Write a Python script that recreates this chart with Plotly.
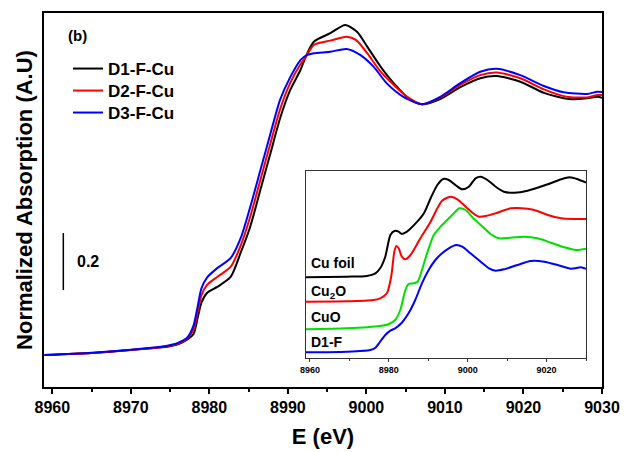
import plotly.graph_objects as go

# ---------------- main panel data (E in eV, normalized absorption) ----------------
E_d1 = [8959, 8965, 8970, 8974, 8976, 8977.2, 8978.0, 8978.5, 8979.0, 8979.7, 8981.0, 8982.7,
        8984.0, 8985.2, 8986.5, 8987.8, 8989.0, 8990.3, 8991.6, 8992.2, 8993.3, 8995.4, 8997.3,
        8998.8, 9000.1, 9001.8, 9003.5, 9005.6, 9007.1, 9009.4, 9011.9, 9014.5, 9016.6, 9019.6,
        9022.6, 9025.8, 9028.1, 9029.4, 9030]
A_d1 = [0.0, 0.007, 0.018, 0.027, 0.038, 0.055, 0.075, 0.13, 0.185, 0.218, 0.239, 0.274,
        0.36, 0.45, 0.58, 0.71, 0.83, 0.93, 1.00, 1.042, 1.099, 1.129, 1.158,
        1.134, 1.082, 1.012, 0.953, 0.895, 0.880, 0.898, 0.939, 0.971, 0.979, 0.959,
        0.920, 0.898, 0.901, 0.906, 0.903]

E_d2 = [8959, 8965, 8970, 8974, 8976, 8977.2, 8978.0, 8978.5, 8979.0, 8979.7, 8981.0, 8982.7,
        8984.0, 8985.2, 8986.5, 8987.8, 8989.0, 8990.3, 8991.6, 8992.2, 8993.3, 8995.4, 8997.5,
        8998.7, 9000.1, 9001.8, 9003.5, 9005.2, 9007.1, 9009.4, 9011.9, 9014.5, 9016.6, 9019.6,
        9022.6, 9025.5, 9028.1, 9029.4, 9030]
A_d2 = [0.0, 0.007, 0.018, 0.028, 0.040, 0.058, 0.09, 0.15, 0.21, 0.246, 0.274, 0.309,
        0.385, 0.485, 0.615, 0.745, 0.862, 0.955, 1.02, 1.042, 1.088, 1.103, 1.117,
        1.105, 1.059, 0.994, 0.947, 0.906, 0.880, 0.903, 0.947, 0.982, 0.991, 0.971,
        0.932, 0.906, 0.904, 0.912, 0.912]

E_d3 = [8959, 8965, 8970, 8974, 8976, 8977.2, 8978.0, 8978.5, 8979.0, 8979.7, 8981.0, 8982.7,
        8984.0, 8985.2, 8986.5, 8987.8, 8989.0, 8990.3, 8991.6, 8992.4, 8993.3, 8995.4, 8997.5,
        8999.2, 9000.9, 9002.6, 9004.7, 9007.1, 9009.4, 9011.9, 9014.5, 9016.6, 9019.6,
        9022.6, 9025.1, 9028.1, 9029.4, 9030]
A_d3 = [0.0, 0.008, 0.019, 0.030, 0.043, 0.062, 0.105, 0.17, 0.235, 0.272, 0.305, 0.340,
        0.411, 0.519, 0.649, 0.779, 0.895, 0.975, 1.035, 1.052, 1.059, 1.064, 1.074,
        1.053, 1.012, 0.953, 0.906, 0.880, 0.906, 0.953, 0.994, 1.004, 0.982,
        0.944, 0.922, 0.916, 0.924, 0.923]

# ---------------- inset data (E in eV, stacked normalized absorption) ----------------
E_cu = [8959.0, 8969.3, 8974.4, 8976.6, 8977.8, 8979.1, 8980.4, 8981.4, 8982.5, 8983.3, 8984.6,
        8987.2, 8988.9, 8990.6, 8992.3, 8993.8, 8995.2, 8996.9, 8998.6, 9000.3, 9002.0, 9003.3,
        9005.0, 9007.1, 9009.2, 9011.8, 9015.2, 9020.3, 9023.7, 9025.8, 9027.9, 9030.0]
A_cu = [0.807, 0.813, 0.82, 0.847, 0.897, 1.013, 1.23, 1.27, 1.263, 1.24, 1.263,
        1.363, 1.447, 1.597, 1.73, 1.79, 1.78, 1.73, 1.687, 1.713, 1.797, 1.813,
        1.78, 1.713, 1.663, 1.653, 1.673, 1.737, 1.787, 1.807, 1.787, 1.753]

E_cu2o = [8959.0, 8969.3, 8976.1, 8977.8, 8979.5, 8980.6, 8981.4, 8981.9, 8982.5, 8983.3, 8984.2,
          8985.5, 8988.0, 8990.6, 8992.3, 8993.5, 8994.8, 8995.8, 8997.4, 8999.5, 9001.2, 9002.9,
          9004.6, 9007.5, 9010.9, 9015.2, 9017.7, 9020.3, 9023.7, 9027.1, 9030.0]
A_cu2o = [0.563, 0.567, 0.58, 0.597, 0.647, 0.813, 1.063, 1.12, 1.097, 1.013, 0.987,
          1.03, 1.197, 1.363, 1.497, 1.573, 1.603, 1.613, 1.587, 1.513, 1.453, 1.413,
          1.42, 1.453, 1.497, 1.493, 1.47, 1.43, 1.397, 1.39, 1.39]

E_cuo = [8959.0, 8969.3, 8977.8, 8979.9, 8981.6, 8982.9, 8984.2, 8985.0, 8986.3, 8987.3, 8988.4,
         8989.7, 8991.4, 8993.1, 8994.8, 8996.5, 8997.9, 8999.5, 9001.2, 9003.3, 9005.8, 9008.0,
         9010.9, 9014.3, 9017.7, 9021.1, 9024.5, 9027.5, 9030.0]
A_cuo = [0.287, 0.297, 0.32, 0.337, 0.38, 0.48, 0.68, 0.74, 0.747, 0.763, 0.88,
         1.047, 1.23, 1.313, 1.38, 1.447, 1.497, 1.48, 1.407, 1.33, 1.24, 1.197,
         1.203, 1.213, 1.197, 1.153, 1.107, 1.08, 1.093]

E_d1f = [8959.0, 8969.3, 8975.3, 8976.6, 8977.8, 8979.1, 8980.4, 8981.6, 8983.3, 8985.0, 8986.7,
         8988.4, 8990.1, 8991.8, 8993.5, 8995.2, 8997.1, 8998.6, 9000.7, 9003.3, 9005.4, 9007.1,
         9009.2, 9012.6, 9016.0, 9019.4, 9022.8, 9026.2, 9028.7, 9030.0]
A_d1f = [0.057, 0.063, 0.08, 0.103, 0.163, 0.23, 0.273, 0.297, 0.353, 0.447, 0.58,
         0.747, 0.88, 0.98, 1.047, 1.097, 1.13, 1.113, 1.047, 0.963, 0.897, 0.873,
         0.887, 0.93, 0.97, 0.963, 0.93, 0.893, 0.907, 0.893]

main_names = ["D1-F-Cu", "D2-F-Cu", "D3-F-Cu"]
main_colors = ["#000000", "#ff0000", "#0000ff"]
inset_names = ["Cu foil", "Cu<sub>2</sub>O", "CuO", "D1-F"]
inset_colors = ["#000000", "#ff0000", "#00e000", "#0000ff"]
inset_label_y = [0.95, 0.66, 0.413, 0.163]
inset_ticks = [8960, 8980, 9000, 9020]
main_ticks = [8960, 8970, 8980, 8990, 9000, 9010, 9020, 9030]

FONT = "Arial, 'Liberation Sans', sans-serif"

# plot-area geometry in pixels (for placing decorations)
L, R, T, B = 44, 602, 13, 387
PW, PH = R - L, B - T


def px(x):
    return (x - L) / PW


def py(y):
    return (B - y) / PH


fig = go.Figure()
legend_ids = ["legend", "legend2", "legend3"]
for E, A, n, c, lg in zip([E_d1, E_d2, E_d3], [A_d1, A_d2, A_d3], main_names, main_colors,
                          legend_ids):
    fig.add_trace(go.Scatter(x=E, y=A, mode="lines", name=n, legend=lg,
                             line=dict(color=c, width=2, shape="spline", smoothing=0.7)))

for E, A, n, c in zip([E_cu, E_cu2o, E_cuo, E_d1f], [A_cu, A_cu2o, A_cuo, A_d1f],
                      inset_names, inset_colors):
    fig.add_trace(go.Scatter(x=E, y=A, mode="lines", name=n, showlegend=False,
                             xaxis="x2", yaxis="y2",
                             line=dict(color=c, width=2, shape="spline", smoothing=0.7)))

# inset labels
for n, yv in zip(inset_names, inset_label_y):
    fig.add_annotation(x=8959.8, y=yv, xref="x2", yref="y2", text=n, showarrow=False,
                       xanchor="left", yanchor="middle",
                       font=dict(family=FONT, size=14, color="black", weight="bold"))

# scale bar (0.2 units)
fig.add_shape(type="line", xref="x", yref="y", x0=8961.4, x1=8961.4, y0=0.228, y1=0.428,
              line=dict(color="black", width=1.5))
fig.add_annotation(x=8962.9, y=0.327, xref="x", yref="y", text="0.2", showarrow=False,
                   xanchor="left", yanchor="middle",
                   font=dict(family=FONT, size=16, color="black", weight="bold"))

# panel label
fig.add_annotation(x=px(66), y=py(35.5), xref="paper", yref="paper", text="(b)",
                   showarrow=False, xanchor="left", yanchor="middle",
                   font=dict(family=FONT, size=15, color="black", weight="bold"))

leg_font = dict(family=FONT, size=17, color="black", weight="bold")
leg_common = dict(xanchor="left", yanchor="top", bgcolor="rgba(0,0,0,0)", borderwidth=0,
                  font=leg_font)
legend_rows = [69, 91, 113]

fig.update_layout(
    width=624, height=452,
    margin=dict(l=L, r=624 - R, t=T, b=452 - B, autoexpand=False),
    paper_bgcolor="white", plot_bgcolor="white",
    font=dict(family=FONT, color="black", weight="bold"),
    showlegend=True,
    legend=dict(x=px(68), y=py(legend_rows[0] - 18), **leg_common),
    legend2=dict(x=px(68), y=py(legend_rows[1] - 18), **leg_common),
    legend3=dict(x=px(68), y=py(legend_rows[2] - 18), **leg_common),
    xaxis=dict(range=[8958.94, 9030], tickvals=main_ticks, ticks="outside", ticklen=5,
               tickwidth=1.5, tickcolor="black", automargin=False,
               minor=dict(dtick=5, ticks="outside", ticklen=3, tickwidth=1.5, tickcolor="black"),
               showline=True, linecolor="black", linewidth=1.5, mirror=True,
               showgrid=False, zeroline=False,
               tickfont=dict(family=FONT, size=16, color="black", weight="bold"),
               title=dict(text="E (eV)", standoff=14,
                          font=dict(family=FONT, size=22, color="black", weight="bold"))),
    yaxis=dict(range=[-0.112, 1.2], showticklabels=False, ticks="", automargin=False,
               showline=True, linecolor="black", linewidth=1.5, mirror=True,
               showgrid=False, zeroline=False,
               title=dict(text="Normalized Absorption (A.U)", standoff=4,
                          font=dict(family=FONT, size=22, color="black", weight="bold"))),
    xaxis2=dict(domain=[px(306), px(586)], anchor="y2",
                range=[8959, 9030], tickvals=inset_ticks, ticks="outside", ticklen=3,
                tickwidth=1, tickcolor="#333333",
                minor=dict(dtick=10, ticks="outside", ticklen=2, tickwidth=1, tickcolor="#333333"),
                showline=True, linecolor="#333333", linewidth=1, mirror=True,
                showgrid=False, zeroline=False,
                tickfont=dict(family=FONT, size=9, color="black", weight="bold")),
    yaxis2=dict(domain=[py(358), py(171)], anchor="x2",
                range=[0, 1.87], showticklabels=False, ticks="",
                showline=True, linecolor="#333333", linewidth=1, mirror=True,
                showgrid=False, zeroline=False),
)

fig.write_html("out.html")
